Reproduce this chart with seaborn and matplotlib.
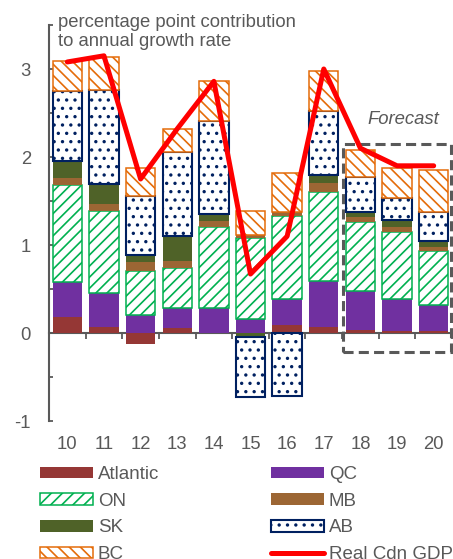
import numpy as np
import seaborn as sns
import matplotlib.pyplot as plt
from matplotlib.patches import Patch, Rectangle
from matplotlib.lines import Line2D

years = ['10', '11', '12', '13', '14', '15', '16', '17', '18', '19', '20']
atlantic = [0.18, 0.07, -0.13, 0.06, 0.00, 0.00, 0.09, 0.065, 0.03, 0.02, 0.02]
qc = [0.40, 0.39, 0.20, 0.225, 0.285, 0.16, 0.30, 0.525, 0.45, 0.37, 0.30]
on = [1.10, 0.93, 0.51, 0.455, 0.915, 0.915, 0.94, 1.01, 0.78, 0.76, 0.61]
mb = [0.08, 0.08, 0.10, 0.08, 0.07, 0.035, 0.045, 0.10, 0.06, 0.05, 0.05]
sk = [0.19, 0.22, 0.08, 0.28, 0.08, -0.04, 0.00, 0.09, 0.055, 0.08, 0.065]
ab = [0.80, 1.07, 0.67, 0.96, 1.06, -0.69, -0.72, 0.73, 0.395, 0.25, 0.335]
bc = [0.34, 0.38, 0.31, 0.26, 0.45, 0.28, 0.445, 0.46, 0.31, 0.35, 0.47]
real_gdp = [3.08, 3.15, 1.75, 2.32, 2.86, 0.67, 1.10, 3.00, 2.10, 1.90, 1.90]

GREY = '#595959'

sns.set_style('ticks')
plt.rcParams['font.family'] = ['Liberation Sans', 'DejaVu Sans']
plt.rcParams['axes.unicode_minus'] = False
plt.rcParams['hatch.linewidth'] = 1.2

# name, values, style
series = [
    ('Atlantic', atlantic, dict(facecolor='#953735', edgecolor='none')),
    ('QC', qc, dict(facecolor='#7030A0', edgecolor='none')),
    ('ON', on, dict(facecolor='white', edgecolor='#00B050', hatch='///', linewidth=1.1)),
    ('MB', mb, dict(facecolor='#9C6634', edgecolor='none')),
    ('SK', sk, dict(facecolor='#4F6228', edgecolor='none')),
    ('AB', ab, dict(facecolor='white', edgecolor='#002060', hatch='..', linewidth=1.5)),
    ('BC', bc, dict(facecolor='white', edgecolor='#E46C0A', hatch='\\\\\\', linewidth=1.1)),
]

fig = plt.figure(figsize=(4.53, 5.59), dpi=100)
ax = fig.add_axes([49 / 453, 1 - 421 / 559, 403 / 453, 396 / 559])

x = np.arange(len(years))
pos_base = np.zeros(len(years))
neg_base = np.zeros(len(years))
handles = {}
for name, vals, style in series:
    vals = np.array(vals)
    bottom = np.where(vals >= 0, pos_base, neg_base)
    ax.bar(x, vals, width=0.8, bottom=bottom, zorder=2, **style)
    pos_base += np.clip(vals, 0, None)
    neg_base += np.clip(vals, None, 0)
    handles[name] = Patch(label=name, **style)

sns.lineplot(x=x, y=real_gdp, ax=ax, color='#FF0000', linewidth=3.6, zorder=4)
handles['Real Cdn GDP'] = Line2D([], [], color='#FF0000', linewidth=3.6,
                                 solid_capstyle='round', label='Real Cdn GDP')

ax.set_xlim(-0.5, 10.5)
ax.set_ylim(-1, 3.5)

# y axis
ax.set_yticks([-1, 0, 1, 2, 3])
ax.set_yticks(np.arange(-0.5, 3.6, 1.0), minor=True)
ax.tick_params(axis='y', which='both', direction='in', length=3, width=1.3,
               color=GREY, labelcolor=GREY, labelsize=13.3, pad=13)
ax.spines['left'].set_color(GREY)
ax.spines['left'].set_linewidth(1.5)
for s in ['top', 'right', 'bottom']:
    ax.spines[s].set_visible(False)

# x labels at the bottom
ax.set_xticks(x)
ax.set_xticklabels(years)
ax.tick_params(axis='x', length=0, labelcolor=GREY, labelsize=13.3, pad=11)

# zero line with ticks between categories
zero_ax = ax.secondary_xaxis(0, transform=ax.transData)
zero_ax.set_xticks(np.arange(-0.5, 10.6, 1.0))
zero_ax.set_xticklabels([])
zero_ax.tick_params(direction='out', length=4, width=1.3, color=GREY)
zero_ax.spines['bottom'].set_color(GREY)
zero_ax.spines['bottom'].set_linewidth(1.5)

# forecast box
ax.add_patch(Rectangle((7.53, -0.22), 2.95, 2.37, fill=False, edgecolor=GREY,
                       linewidth=2.2, linestyle=(0, (3.3, 1.7)), zorder=3,
                       clip_on=False))
ax.text(9.17, 2.43, 'Forecast', style='italic', color=GREY, fontsize=13.3,
        ha='center', va='center')

fig.text(58 / 453, 1 - 14 / 559,
         'percentage point contribution\nto annual growth rate',
         color=GREY, fontsize=13.3, ha='left', va='top', linespacing=1.15)

order = ['Atlantic', 'ON', 'SK', 'BC', 'QC', 'MB', 'AB', 'Real Cdn GDP']
fig.legend(handles=[handles[k] for k in order], loc='upper left',
           bbox_to_anchor=(40 / 453, 1 - 466 / 559), ncol=2, frameon=False,
           fontsize=13.5, labelcolor=GREY, borderpad=0, borderaxespad=0,
           handlelength=2.81, handleheight=0.55, handletextpad=0.27,
           columnspacing=5.96, labelspacing=0.52)

fig.savefig('out.png', dpi=100)
